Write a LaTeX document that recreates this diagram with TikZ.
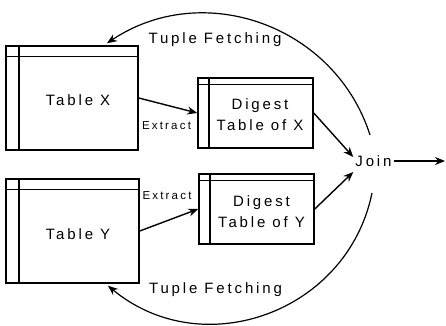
\documentclass[tikz,border=0pt]{standalone}
\usepackage{fontspec}
\setmainfont{Liberation Sans}[LetterSpace=19]
\usepackage{tikz}
\usetikzlibrary{arrows.meta}
\tikzstyle{tbl}    = [draw, line width=1.5pt, minimum width=132pt, minimum height=104pt,
                      path picture={
                        \draw[line width=1.5pt] ([yshift=-10.5pt]path picture bounding box.north west) -- ([yshift=-10.5pt]path picture bounding box.north east);
                        \draw[line width=1.5pt] ([xshift=13pt]path picture bounding box.north west) -- ([xshift=13pt]path picture bounding box.south west);}]
\tikzstyle{digest} = [draw, line width=1.5pt, minimum width=115pt, minimum height=70pt,
                      path picture={
                        \draw[line width=1.5pt] ([yshift=-6.5pt]path picture bounding box.north west) -- ([yshift=-6.5pt]path picture bounding box.north east);
                        \draw[line width=1.5pt] ([xshift=11pt]path picture bounding box.north west) -- ([xshift=11pt]path picture bounding box.south west);}]
\tikzstyle{lbl}    = [font=\fontsize{15}{21}\selectfont, inner sep=0pt, align=center]
\tikzstyle{small}  = [font=\fontsize{11.5}{14}\selectfont, inner sep=0pt]
\tikzstyle{arrow}  = [line width=1.4pt, -{Stealth[length=10pt,width=8pt]}]
\tikzstyle{fetch}  = [line width=1.2pt, -{Stealth[length=10pt,width=8pt]}]

\begin{document}
\begin{tikzpicture}[x=1pt,y=1pt]
        \useasboundingbox (0,0) rectangle (446,325);

        % tables and digests
        \node[tbl] (tx) at (72,227) {};
        \node[lbl] (txl) at (78,225) {Table X};
        \node[tbl, minimum width=133pt] (ty) at (72.5,94) {};
        \node[lbl] (tyl) at (78,90.5) {Table Y};

        \node[digest] (dx) at (255.5,212) {};
        \node[lbl] (dxl) at (260,210) {Digest\\Table of X};
        \node[digest] (dy) at (256.5,116) {};
        \node[lbl] (dyl) at (261.5,113) {Digest\\Table of Y};

        \node[lbl, inner sep=2pt] (join) at (373.5,164) {Join};
        \coordinate (res) at (445,164);

        % extract
        \draw[arrow] (tx.east) -- (dx.west);
        \node[small] (exx) at (166.5,199) {Extract};
        \draw[arrow] (ty.east) -- (dy.west);
        \node[small] (exy) at (167,129) {Extract};

        % join
        \draw[arrow] (dx.east) -- ([yshift=4pt]join.west);
        \draw[arrow] (dy.east) -- ([yshift=-11pt]join.west);
        \draw[arrow] (join.east) -- (res);

        % tuple fetching
        \coordinate (fx) at (370,190);
        \coordinate (fy) at (372,132);
        \draw[fetch] (fx) to[bend right=53, looseness=1.06] ([xshift=35pt,yshift=2pt]tx.north);
        \node[lbl] (ftx) at (215,285) {Tuple Fetching};
        \draw[fetch] (fy) to[bend left=59, looseness=1.12] ([xshift=35.5pt,yshift=-2pt]ty.south);
        \node[lbl] (fty) at (215.5,35) {Tuple Fetching};
    \end{tikzpicture}
\end{document}
